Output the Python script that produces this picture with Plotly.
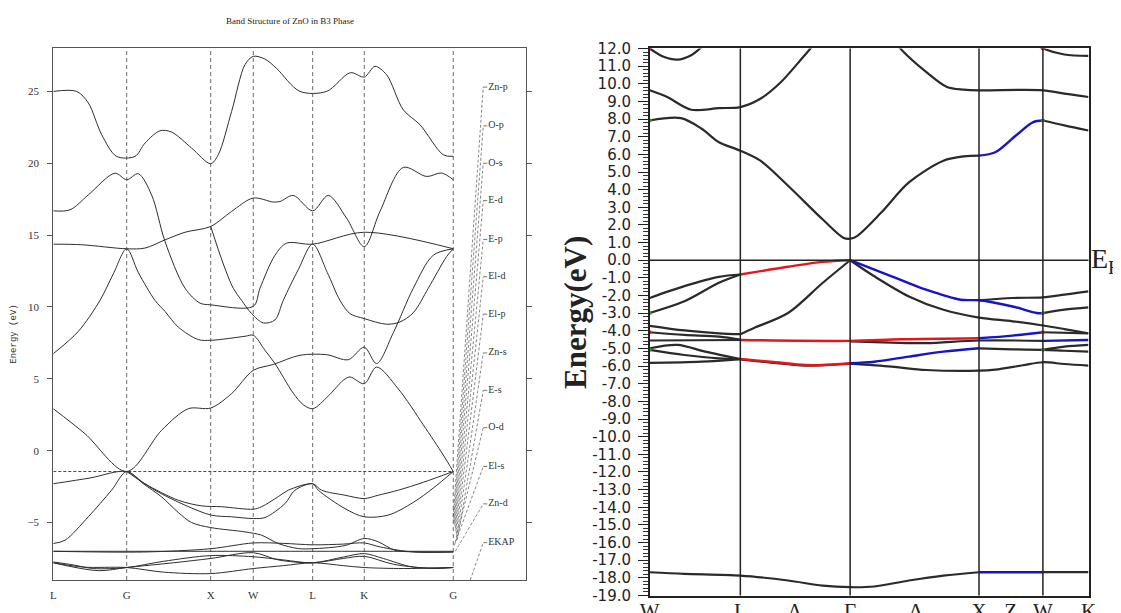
import plotly.graph_objects as go

# ---------------------------------------------------------------------------
# left panel : band structure of ZnO in B3 phase (old style plot)
# ---------------------------------------------------------------------------
left_k_ticks = [0, 0.734, 1.574, 2.0, 2.594, 3.11, 4.0]
left_k_labels = ['L', 'G', 'X', 'W', 'L', 'K', 'G']
left_e_ticks = [-5, 0, 5, 10, 15, 20, 25]
left_fermi = -1.45

lb_1 = [(0, 25.0), (0.233, 25.0), (0.35, 24.2), (0.483, 22.0), (0.633, 20.48), (0.817, 20.48),
        (0.917, 21.4), (1.067, 22.26), (1.183, 22.17), (1.383, 21.06), (1.574, 19.97), (1.65, 20.6),
        (1.783, 23.6), (1.917, 26.86), (2.0, 27.44), (2.117, 27.25), (2.233, 26.6), (2.467, 25.0),
        (2.733, 25.0), (2.97, 26.3), (3.11, 26.0), (3.217, 26.74), (3.333, 26.16), (3.5, 23.72),
        (3.667, 22.68), (3.9, 20.59), (4.0, 20.48)]
lb_2 = [(0, 16.69), (0.167, 16.76), (0.35, 17.8), (0.617, 19.31), (0.734, 18.85), (0.85, 19.27),
        (0.983, 17.8), (1.117, 14.56), (1.317, 11.31), (1.467, 10.27), (1.574, 10.15), (2.0, 10.04),
        (2.067, 11.3), (2.217, 13.6), (2.333, 14.44), (2.594, 14.37), (3.11, 15.2), (4.0, 14.05)]
lb_3 = [(0, 14.37), (0.283, 14.33), (0.734, 14.05), (0.917, 14.1), (1.117, 14.67), (1.317, 15.2),
        (1.574, 15.6), (1.783, 16.65), (2.0, 17.58), (2.2, 17.3), (2.267, 17.34), (2.4, 17.76),
        (2.594, 16.69), (2.75, 17.76), (2.933, 16.18), (3.11, 14.2), (3.267, 16.65), (3.5, 19.71),
        (3.733, 19.08), (3.883, 19.32), (4.0, 18.85)]
lb_4 = [(0, 6.75), (0.25, 8.3), (0.467, 10.46), (0.6, 12.3), (0.734, 14.05), (0.85, 12.4),
        (1.017, 10.46), (1.117, 9.69), (1.25, 8.6), (1.45, 7.73), (1.574, 7.68), (1.917, 7.96),
        (2.0, 8.03), (2.117, 6.98), (2.217, 6.06), (2.4, 4.0), (2.5, 3.2), (2.594, 2.92),
        (2.75, 3.8), (2.9, 4.9), (2.967, 5.13), (3.11, 4.66), (3.233, 5.82), (3.45, 4.3),
        (3.7, 1.8), (3.9, -0.3), (4.0, -1.45)]
lb_5 = [(0, 2.92), (0.317, 1.18), (0.734, -1.45), (1.083, 1.42), (1.35, 2.92), (1.574, 2.97),
        (1.783, 3.97), (2.0, 5.59), (2.2, 6.0), (2.467, 6.64), (2.733, 6.68), (2.95, 6.33),
        (3.11, 7.2), (3.233, 6.06), (3.4, 8.2), (3.6, 11.3), (3.8, 13.6), (4.0, 14.05)]
lb_6 = [(1.574, 15.6), (1.7, 13.0), (1.8, 11.3), (1.883, 10.46), (1.983, 9.54), (2.1, 8.89),
        (2.217, 9.1), (2.3, 10.46), (2.45, 12.6), (2.594, 14.37), (2.74, 12.4), (2.867, 10.46),
        (2.967, 9.54), (3.11, 9.19), (3.333, 8.8), (3.467, 8.96), (3.6, 9.6), (3.75, 11.3),
        (3.933, 13.5), (4.0, 14.05)]
lb_7 = [(0, -2.3), (0.367, -1.9), (0.734, -1.45), (0.917, -2.3), (1.25, -3.45), (1.483, -3.84),
        (1.683, -3.9), (2.0, -4.07), (2.083, -3.9), (2.25, -3.2), (2.35, -2.75), (2.594, -2.3),
        (2.683, -2.75), (2.917, -3.1), (3.11, -3.33), (3.25, -3.1), (3.45, -2.75), (3.7, -2.2),
        (4.0, -1.45)]
lb_8 = [(0.734, -1.45), (1.017, -2.75), (1.317, -3.79), (1.583, -4.49), (1.783, -4.6), (2.0, -4.72),
        (2.117, -4.65), (2.317, -3.68), (2.417, -2.75), (2.594, -2.3), (2.65, -2.75), (2.917, -4.03),
        (3.11, -4.6), (3.35, -4.48), (3.6, -3.6), (3.8, -2.6), (4.0, -1.45)]
lb_9 = [(0, -6.46), (0.117, -6.23), (0.35, -4.6), (0.583, -2.75), (0.734, -1.45), (0.9, -2.3),
        (1.08, -3.2), (1.25, -4.3), (1.383, -5.0), (1.574, -5.35), (1.917, -5.65), (2.083, -5.88),
        (2.25, -6.46), (2.45, -6.81), (2.594, -6.82), (2.917, -6.6), (3.11, -6.11), (3.25, -6.34),
        (3.417, -6.93), (3.65, -7.04), (4.0, -7.05)]
lb_10 = [(0, -7.0), (1.0, -7.0), (2.0, -7.0), (3.0, -7.0), (4.0, -7.0)]
lb_11 = [(0, -7.0), (0.9, -7.05), (1.574, -6.82), (2.0, -6.42), (2.3, -6.45), (2.594, -6.55),
         (2.9, -6.5), (3.11, -6.42), (3.27, -6.7), (3.6, -7.05), (4.0, -7.05)]
lb_12 = [(0, -7.74), (0.2, -7.95), (0.4, -8.2), (0.734, -8.13), (1.1, -7.7), (1.574, -7.3),
         (2.0, -7.38), (2.3, -7.6), (2.594, -7.8), (2.9, -7.4), (3.11, -7.16), (3.3, -7.5),
         (3.6, -8.1), (4.0, -8.13)]
lb_13 = [(0, -7.8), (0.3, -8.1), (0.734, -8.13), (1.1, -8.45), (1.574, -8.55), (2.0, -8.2),
         (2.3, -8.0), (2.594, -7.8), (2.9, -8.0), (3.11, -8.13), (3.5, -8.2), (4.0, -8.13)]
lb_14 = [(0, -7.8), (0.45, -8.35), (0.734, -8.13), (1.2, -7.8), (1.574, -7.5), (2.0, -7.1),
         (2.25, -7.6), (2.594, -7.8), (2.9, -7.5), (3.11, -7.35), (3.4, -7.9), (3.8, -8.2),
         (4.0, -8.13)]
left_bands = [lb_1, lb_2, lb_3, lb_4, lb_5, lb_6, lb_7, lb_8, lb_9, lb_10, lb_11, lb_12, lb_13, lb_14]

legend_names = ['Zn-p', 'O-p', 'O-s', 'E-d', 'E-p', 'El-d', 'El-p', 'Zn-s', 'E-s', 'O-d', 'El-s',
                'Zn-d', 'EKAP']
legend_e = [25.3, 22.6, 20.0, 17.4, 14.7, 12.1, 9.5, 6.8, 4.2, 1.6, -1.1, -3.7, -6.4]
legend_anchor_k = [4.0, 4.005, 4.01, 4.015, 4.02, 4.025, 4.03, 4.035, 4.04, 4.02, 4.01, 4.02, 4.17]
legend_anchor_e = [-4.6, -4.8, -5.0, -5.2, -5.4, -5.6, -5.8, -6.0, -6.2, -6.4, -6.6, -7.0, -9.0]

# ---------------------------------------------------------------------------
# right panel : coloured band structure
# ---------------------------------------------------------------------------
right_k_ticks = [0, 0.906, 1.452, 2.004, 2.66, 3.293, 3.61, 3.932, 4.388]
right_k_labels = ['W', 'L', 'Λ', 'Γ', 'Δ', 'X', 'Z', 'W', 'K']
right_vlines = [0.906, 2.004, 3.293, 3.932]
right_e_ticks = list(range(-19, 13))

rb_black = [
    [(0, 12.0), (0.139, 11.53), (0.277, 11.37), (0.415, 11.62), (0.502, 12.0), (0.623, 12.6)],
    [(3.8, 12.4), (3.932, 12.0), (4.146, 11.66), (4.388, 11.58)],
    [(0, 9.63), (0.174, 9.25), (0.415, 8.53), (0.692, 8.62), (0.906, 8.68), (1.106, 9.15),
     (1.313, 10.1), (1.521, 11.43), (1.607, 12.0), (1.693, 12.6)],
    [(2.419, 12.6), (2.522, 11.9), (2.764, 10.67), (2.972, 9.82), (3.144, 9.67), (3.293, 9.63),
     (3.932, 9.63), (4.146, 9.44), (4.388, 9.25)],
    [(0, 7.92), (0.312, 8.05), (0.519, 7.45), (0.692, 6.69), (0.906, 6.21), (1.106, 5.64),
     (1.383, 4.22), (1.728, 2.32), (1.935, 1.28), (2.004, 1.22), (2.073, 1.37), (2.315, 2.7),
     (2.592, 4.41), (2.937, 5.64), (3.144, 5.89), (3.293, 5.93)],
    [(3.932, 7.92), (4.146, 7.64), (4.388, 7.35)],
    [(0, -2.14), (0.346, -1.47), (0.692, -0.94), (0.906, -0.81)],
    [(0, -2.99), (0.346, -2.33), (0.692, -1.28), (0.906, -0.81)],
    [(3.932, -3.0), (4.146, -2.8), (4.388, -2.67)],
    [(3.293, -2.27), (3.628, -2.14), (3.932, -2.1), (4.146, -1.95), (4.388, -1.76)],
    [(2.004, 0.0), (2.246, -0.91), (2.592, -2.05), (2.937, -2.81), (3.293, -3.25), (3.628, -3.46),
     (3.932, -3.7), (4.146, -3.9), (4.388, -4.14)],
    [(0.906, -4.19), (1.037, -3.85), (1.383, -2.99), (1.728, -1.29), (2.004, 0.0)],
    [(0, -3.72), (0.346, -3.98), (0.692, -4.14), (0.906, -4.19)],
    [(0, -4.08), (0.346, -4.23), (0.692, -4.33), (0.906, -4.5)],
    [(0, -4.55), (0.906, -4.52)],
    [(2.004, -4.6), (2.419, -4.67), (2.764, -4.7), (3.293, -4.55), (3.932, -4.57)],
    [(3.932, -4.08), (4.388, -4.14)],
    [(0, -4.99), (0.277, -4.8), (0.554, -5.18), (0.906, -5.6)],
    [(0, -5.08), (0.346, -5.37), (0.692, -5.56), (0.906, -5.6)],
    [(0, -5.82), (0.519, -5.75), (0.906, -5.6)],
    [(0.906, -5.62), (1.21, -5.8), (1.555, -5.97), (2.004, -5.86)],
    [(3.293, -4.99), (3.628, -5.05), (3.932, -5.08), (4.146, -5.13), (4.388, -5.18)],
    [(3.932, -5.08), (4.146, -4.9), (4.388, -4.8)],
    [(2.004, -5.86), (2.419, -6.03), (2.764, -6.22), (3.293, -6.26), (3.455, -6.2), (3.731, -5.95),
     (3.932, -5.78), (4.146, -5.88), (4.388, -5.97)],
    [(0, -17.68), (0.346, -17.77), (0.906, -17.87), (1.383, -18.15), (1.728, -18.44), (2.004, -18.53),
     (2.246, -18.49), (2.592, -18.15), (2.937, -17.87), (3.293, -17.68)],
    [(3.932, -17.68), (4.388, -17.68)],
]
rb_red = [
    [(0.906, -0.81), (1.383, -0.37), (1.728, -0.09), (2.004, 0.0)],
    [(0.906, -4.52), (2.004, -4.57), (2.522, -4.48), (3.293, -4.42)],
    [(0.906, -5.6), (1.21, -5.75), (1.555, -5.94), (1.728, -5.94), (2.004, -5.84)],
]
rb_blue = [
    [(3.293, 5.93), (3.455, 6.12), (3.662, 7.07), (3.835, 7.83), (3.932, 7.92)],
    [(2.004, 0.0), (2.419, -0.91), (2.764, -1.67), (3.11, -2.24), (3.293, -2.27), (3.628, -2.62),
     (3.87, -2.99), (3.932, -3.0)],
    [(3.932, -4.57), (4.388, -4.52)],
    [(3.293, -4.42), (3.628, -4.27), (3.932, -4.08)],
    [(2.004, -5.84), (2.246, -5.75), (2.592, -5.46), (2.937, -5.18), (3.293, -4.99)],
    [(3.293, -17.68), (3.932, -17.68)],
]
green_dots = [(0, 7.92), (0, -2.99), (0, -5.08), (3.932, 7.92), (3.932, -3.0), (3.932, -5.08)]
red_dots = [(0, 12.0), (0, -4.08), (3.932, 12.0), (3.932, -4.08)]

fig = go.Figure()


def add_band(pts, color, width, xa, ya, dash=None, shape='spline'):
	fig.add_trace(go.Scatter(x=[p[0] for p in pts], y=[p[1] for p in pts], mode='lines',
	                         line=dict(color=color, width=width, shape=shape, smoothing=0.9, dash=dash),
	                         xaxis=xa, yaxis=ya, hoverinfo='skip', showlegend=False))


for band in left_bands:
	add_band(band, '#2e2e2e', 1.0, 'x', 'y')

# legend leaders of the left plot
for name, e, ak, ae in zip(legend_names, legend_e, legend_anchor_k, legend_anchor_e):
	add_band([(ak, ae), (4.30, e)], '#555', 0.7, 'x', 'y', dash='3px,2px', shape='linear')
	add_band([(4.30, e), (4.34, e)], '#555', 0.8, 'x', 'y', shape='linear')
fig.add_trace(go.Scatter(x=[4.35] * len(legend_names), y=legend_e, text=legend_names,
                         mode='text', textposition='middle right',
                         textfont=dict(family='Liberation Serif', size=10, color='#333'),
                         xaxis='x', yaxis='y', hoverinfo='skip', showlegend=False))

for band in rb_black:
	add_band(band, '#2a2a2a', 2.2, 'x2', 'y2')
for band in rb_red:
	add_band(band, '#e8141c', 2.4, 'x2', 'y2')
for band in rb_blue:
	add_band(band, '#1414c8', 2.4, 'x2', 'y2')
fig.add_trace(go.Scatter(x=[p[0] for p in green_dots], y=[p[1] for p in green_dots], mode='markers',
                         marker=dict(color='#2ca02c', size=4), xaxis='x2', yaxis='y2',
                         hoverinfo='skip', showlegend=False))
fig.add_trace(go.Scatter(x=[p[0] for p in red_dots], y=[p[1] for p in red_dots], mode='markers',
                         marker=dict(color='#e8141c', size=4), xaxis='x2', yaxis='y2',
                         hoverinfo='skip', showlegend=False))

shapes = []
# dashed high-symmetry lines (left)
for k in left_k_ticks[1:]:
	shapes.append(dict(type='line', xref='x', yref='y domain', x0=k, x1=k, y0=0, y1=1,
	                   line=dict(color='#444', width=0.8, dash='4px,3px')))
shapes.append(dict(type='line', xref='x', yref='y', x0=0, x1=left_k_ticks[-1], y0=left_fermi,
                   y1=left_fermi, line=dict(color='#333', width=0.9, dash='3px,2px')))
# solid lines (right)
for k in right_vlines:
	shapes.append(dict(type='line', xref='x2', yref='y2 domain', x0=k, x1=k, y0=0, y1=1,
	                   line=dict(color='#222', width=1.5)))
shapes.append(dict(type='line', xref='x2 domain', yref='y2', x0=0, x1=1, y0=0, y1=0,
                   line=dict(color='#222', width=1.3)))

# the page body keeps its 8px margin, so the figure is 8px smaller than the window
fig.update_layout(
	width=1113, height=605, margin=dict(l=0, r=0, t=0, b=0, autoexpand=False),
	paper_bgcolor='white', plot_bgcolor='white', showlegend=False, shapes=shapes,
	xaxis=dict(domain=[0.0407, 0.4651], range=[0, 4.724], tickvals=left_k_ticks,
	           ticktext=left_k_labels, ticks='', showgrid=False, zeroline=False, automargin=False,
	           showline=True, linecolor='#555', linewidth=1, mirror=True, ticklabelstandoff=5,
	           tickfont=dict(family='Liberation Serif', size=11, color='#333')),
	yaxis=dict(domain=[0.0545, 0.9334], range=[-9.0, 28.0], tickvals=left_e_ticks,
	           ticks='outside', ticklen=5, tickcolor='#555', showgrid=False, zeroline=False,
	           showline=True, linecolor='#555', linewidth=1, mirror='ticks', ticklabelstandoff=6,
	           automargin=False,
	           tickfont=dict(family='Liberation Serif', size=11, color='#333')),
	xaxis2=dict(domain=[0.5766, 0.9708], range=[0, 4.388], tickvals=right_k_ticks,
	            ticktext=right_k_labels, ticks='', showgrid=False, zeroline=False, automargin=False,
	            showline=True, linecolor='#222', linewidth=1.5, mirror=True, anchor='y2',
	            ticklabelstandoff=-4,
	            tickfont=dict(family='Liberation Serif', size=21, color='#222')),
	yaxis2=dict(domain=[0.0289, 0.9331], range=[-19, 12], tickvals=right_e_ticks,
	            ticktext=['%.1f' % v for v in right_e_ticks], automargin=False,
	            ticks='outside', ticklen=10, tickcolor='#222', showgrid=False, zeroline=False,
	            showline=True, linecolor='#222', linewidth=1.5, mirror=True, anchor='x2',
	            minor=dict(dtick=0.2, ticks='outside', ticklen=5, tickcolor='#333'),
	            ticklabelstandoff=4,
	            tickfont=dict(family='DejaVu Sans', size=15, color='#222')),
	annotations=[
		dict(text='Band Structure of ZnO in B3 Phase', xref='paper', yref='paper', x=0.253, y=0.9785,
		     xanchor='center', yanchor='middle', showarrow=False,
		     font=dict(family='Liberation Serif', size=9, color='#222')),
		dict(text='Energy (eV)', xref='paper', yref='paper', x=0.0054, y=0.46, textangle=-90,
		     xanchor='center', yanchor='middle', showarrow=False,
		     font=dict(family='Liberation Mono', size=9, color='#333')),
		dict(text='<b>Energy(eV)</b>', xref='paper', yref='paper', x=0.5094, y=0.4975, textangle=-90,
		     xanchor='center', yanchor='middle', showarrow=False,
		     font=dict(family='Liberation Serif', size=31, color='#222')),
		dict(text='E<sub>F</sub>', xref='paper', yref='y2', x=0.9715, y=0, xanchor='left',
		     yanchor='middle', showarrow=False,
		     font=dict(family='Liberation Serif', size=28, color='#222')),
	],
)

fig.write_html('out.html')
